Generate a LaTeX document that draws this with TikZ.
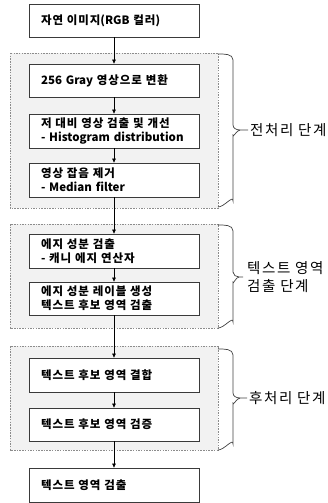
\documentclass[tikz,border=0pt]{standalone}
\usepackage{fontspec}
\setmainfont{Noto Sans CJK KR}
\newfontfamily\kob{Noto Sans CJK KR}[LetterSpace=8]
\newfontfamily\kol{Noto Sans CJK KR}[LetterSpace=11]
\newcommand{\ko}[1]{{\kob\bfseries #1}}
\usetikzlibrary{arrows.meta}
\definecolor{grpfill}{HTML}{F2F2F2}
\definecolor{grpline}{HTML}{8C8C8C}
\definecolor{boxline}{HTML}{3A3A3A}
\tikzset{
  stepbox/.style={draw=boxline, line width=0.8pt, fill=white, minimum width=170pt, minimum height=33pt,
    text width=146pt, inner xsep=12pt, inner ysep=0pt, align=left, font=\fontsize{11.5}{14}\selectfont\bfseries},
  grp/.style={draw=grpline, fill=grpfill, line width=0.6pt, dash pattern=on 1.5pt off 1.2pt},
  flow/.style={line width=0.6pt, -{Triangle[length=4pt,width=3.6pt]}},
  bracepath/.style={line width=0.7pt, draw=black!75},
  steplabel/.style={anchor=west, align=left, inner sep=0pt, font=\fontsize{14.5}{18}\selectfont\kol}
}
\begin{document}
\begin{tikzpicture}[x=1pt,y=-1pt]
\useasboundingbox (0,0) rectangle (327,503);
% groups
\draw[grp] (10,53) rectangle (218,208);
\draw[grp] (10,224) rectangle (218,328);
\draw[grp] (10,346) rectangle (218,450);
% boxes
\node[stepbox] (b1) at (114,20.5) {\ko{자연 이미지}(RGB \ko{컬러})};
\node[stepbox] (b2) at (114,80.5) {256 Gray \ko{영상으로 변환}};
\node[stepbox, minimum height=34pt] (b3) at (114,131) {\ko{저 대비 영상 검출 및 개선}\\- Histogram distribution};
\node[stepbox, minimum height=34pt] (b4) at (114,180) {\ko{영상 잡음 제거}\\- Median filter};
\node[stepbox, minimum height=34pt] (b5) at (114,251) {\ko{에지 성분 검출}\\- \ko{캐니 에지 연산자}};
\node[stepbox] (b6) at (114,298.5) {\ko{에지 성분 레이블 생성}\\\ko{텍스트 후보 영역 검출}};
\node[stepbox, minimum height=34pt] (b7) at (114,375) {\ko{텍스트 후보 영역 결합}};
\node[stepbox] (b8) at (114,424.5) {\ko{텍스트 후보 영역 검증}};
\node[stepbox, minimum height=34pt] (b9) at (114,485) {\ko{텍스트 영역 검출}};
% arrows
\draw[flow] (b1) -- (b2);
\draw[flow] (b2) -- (b3);
\draw[flow] (b3) -- (b4);
\draw[flow] (b4) -- (b5);
\draw[flow] (b5) -- (b6);
\draw[flow] (b6) -- (b7);
\draw[flow] (b7) -- (b8);
\draw[flow] (b8) -- (b9);
% braces
\draw[bracepath] (218,54) to[out=0,in=90] (233,60) -- (233,125) to[out=-90,in=180] (240,130) -- (248,130);
\draw[bracepath] (240,130) to[out=180,in=-90] (233,135) -- (233,201) to[out=90,in=0] (218,207);
\draw[bracepath] (218,225) to[out=0,in=90] (233,231) -- (233,272) to[out=-90,in=180] (239,277) -- (243,277);
\draw[bracepath] (239,277) to[out=180,in=-90] (233,282) -- (233,322) to[out=90,in=0] (218,328);
\draw[bracepath] (218,349) to[out=0,in=90] (233,355) -- (233,393) to[out=-90,in=180] (240,398) -- (247,398);
\draw[bracepath] (240,398) to[out=180,in=-90] (233,403) -- (233,444) to[out=90,in=0] (218,450);
% labels
\node[steplabel] (l1) at (250,130) {전처리 단계};
\node[steplabel] (l2) at (247,277) {텍스트 영역\\검출 단계};
\node[steplabel] (l3) at (249,398) {후처리 단계};
\end{tikzpicture}
\end{document}
